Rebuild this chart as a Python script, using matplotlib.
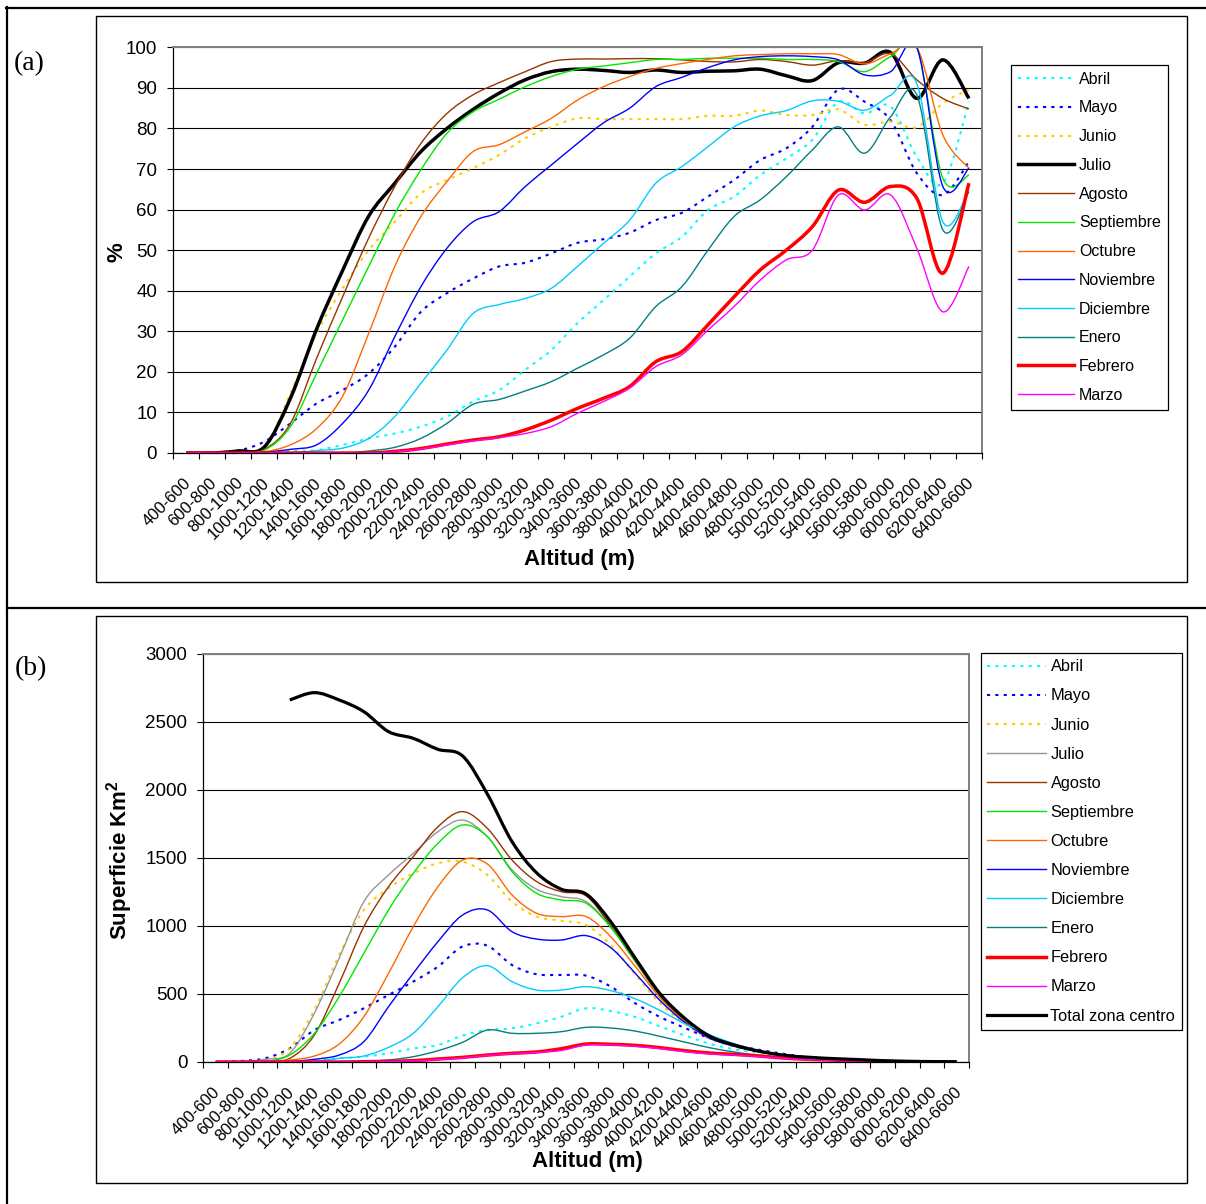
import numpy as np
import matplotlib
matplotlib.use("Agg")
import matplotlib.pyplot as plt
from matplotlib.path import Path
from matplotlib.patches import PathPatch, Rectangle
from matplotlib.lines import Line2D

plt.rcParams['font.family'] = ['Liberation Sans', 'DejaVu Sans']
plt.rcParams['mathtext.fontset'] = 'custom'
plt.rcParams['mathtext.rm'] = 'Liberation Sans'
plt.rcParams['mathtext.bf'] = 'Liberation Sans:bold'

# categorias de altitud
rangos = ['400-600', '600-800', '800-1000', '1000-1200', '1200-1400', '1400-1600',
          '1600-1800', '1800-2000', '2000-2200', '2200-2400', '2400-2600', '2600-2800',
          '2800-3000', '3000-3200', '3200-3400', '3400-3600', '3600-3800', '3800-4000',
          '4000-4200', '4200-4400', '4400-4600', '4600-4800', '4800-5000', '5000-5200',
          '5200-5400', '5400-5600', '5600-5800', '5800-6000', '6000-6200', '6200-6400',
          '6400-6600']

# (a) porcentaje de superficie cubierta
abril_a = [0, 0, 0, 0, 0.5, 0.7, 2, 3.6, 4.8, 6.5, 9, 12.7, 15.5, 20.5, 25.4, 32,
           37.7, 43.5, 49.2, 53.3, 59.9, 63.2, 68.5, 72.6, 77.2, 86.6, 83.7, 85.4, 73, 66.5, 86.6]
mayo_a = [0, 0, 0.6, 2.8, 7.3, 12.2, 15.5, 19.6, 26.2, 34.8, 39.4, 43, 46, 46.9, 49.2, 51.8,
          52.7, 54.3, 57.4, 59.2, 63.2, 67.3, 72.2, 75.1, 80.4, 89.6, 86.6, 82, 69, 63.6, 71.8]
junio_a = [0, 0, 0, 1.2, 14.7, 29.5, 40.6, 50, 57, 64, 67.3, 70.2, 73.5, 77.6, 80.4, 82.5,
           82.3, 82.3, 82.3, 82.3, 83.1, 83.1, 84.4, 83.3, 83.3, 84.7, 80.9, 81.7, 80.3, 86.2, 89.6]
julio_a = [0, 0, 0.5, 1.5, 13.5, 30.5, 45, 58.4, 66.5, 74.3, 80, 84.7, 88.7, 92, 94, 94.6,
           94.3, 93.8, 94.4, 93.8, 94.1, 94.2, 94.6, 93, 91.8, 96.2, 96.1, 98.7, 87.4, 96.9, 87.4]
agosto_a = [0, 0, 0, 0.9, 7.3, 23.3, 38.5, 53, 65.7, 76.3, 83.7, 88.3, 91.3, 94, 96.5, 97.1,
            97.1, 97.2, 97.2, 96.9, 96.5, 96.4, 97, 96.5, 95.6, 96.7, 96.2, 98.4, 92, 87.4, 84.8]
septiembre_a = [0, 0, 0, 0.7, 6.5, 19.6, 32.8, 46, 59, 69.8, 78.8, 84.1, 87.2, 90.3, 92.8, 94.6,
                95.4, 96.2, 97, 97, 97.3, 97.3, 97.3, 97, 97, 96.5, 94, 97.7, 100, 67.7, 68.5]
octubre_a = [0, 0, 0, 0.3, 2, 6, 14, 29.5, 46, 58.3, 66.9, 74.3, 76, 79.2, 82.5, 87,
             90.3, 92.8, 94.8, 96, 97, 97.9, 98.2, 98.4, 98.4, 98.2, 95.9, 98.4, 100, 78.4, 70.2]
noviembre_a = [0, 0, 0, 0.2, 0.9, 2, 7.3, 15.5, 28.7, 41, 50.5, 57, 59.5, 65.7, 71, 76.3,
               81.4, 85, 90.3, 92.6, 95, 96.9, 97.7, 97.9, 97.7, 96.9, 93.2, 94, 100, 65.7, 70.2]
diciembre_a = [0, 0, 0, 0, 0, 0.6, 1.2, 3.6, 9, 17.2, 25.4, 34.4, 36.6, 38.1, 40.6, 46,
               51.7, 57.4, 66.5, 70.6, 75.5, 80.4, 83.1, 84.4, 86.8, 86.7, 84.5, 88.2, 91.1, 57, 64.8]
enero_a = [0, 0, 0, 0, 0, 0, 0, 0.5, 1.4, 3.6, 7.3, 12, 13.2, 15.3, 17.6, 20.9,
           24.2, 28.3, 36.1, 41, 50, 58.3, 62.4, 68.1, 74.7, 80.4, 73.9, 82.9, 88.3, 55, 64.4]
febrero_a = [0, 0, 0, 0, 0, 0, 0, 0, 0.4, 1.1, 2.2, 3.2, 4, 5.7, 8.1, 11,
             13.5, 16.4, 22.5, 25, 31.6, 38.5, 45.1, 50, 55.8, 64.8, 61.8, 65.7, 62.8, 44.3, 66.5]
marzo_a = [0, 0, 0, 0, 0, 0, 0, 0, 0.3, 1, 2, 3, 3.8, 4.8, 6.5, 9.8,
           12.7, 16, 21.3, 24.2, 30.3, 36.1, 42.6, 47.6, 50, 63.6, 59.9, 63.6, 50.5, 34.8, 46]

# (b) superficie en km2
abril_b = [0, 0, 0, 0, 10, 27, 39, 64, 100, 125, 195, 235, 248, 284, 333, 395,
           375, 330, 261, 195, 134, 93, 66, 46, 30, 20, 13, 7, 4, 2, 1]
mayo_b = [0, 7, 27, 100, 235, 309, 395, 493, 591, 701, 850, 855, 713, 645, 640, 635,
          554, 430, 330, 250, 175, 125, 90, 60, 35, 22, 14, 8, 4, 2, 1]
junio_b = [0, 0, 10, 100, 382, 787, 1118, 1277, 1387, 1461, 1473, 1375, 1179, 1069, 1039, 1007,
           860, 640, 430, 280, 170, 112, 72, 45, 31, 22, 15, 8, 4, 2, 1]
julio_b = [0, 2, 20, 64, 360, 762, 1179, 1375, 1534, 1694, 1779, 1657, 1412, 1270, 1216, 1179,
           990, 735, 480, 305, 180, 118, 76, 47, 32, 23, 16, 9, 5, 3, 2]
agosto_b = [0, 0, 5, 27, 199, 578, 995, 1289, 1510, 1730, 1841, 1718, 1485, 1326, 1252, 1221,
            1000, 740, 490, 310, 185, 120, 78, 48, 33, 24, 17, 9, 5, 3, 2]
septiembre_b = [0, 0, 3, 51, 211, 480, 799, 1118, 1387, 1608, 1743, 1657, 1400, 1240, 1191, 1167,
                990, 740, 490, 310, 185, 120, 78, 48, 33, 24, 17, 9, 5, 3, 2]
octubre_b = [0, 0, 5, 15, 44, 132, 333, 652, 995, 1289, 1485, 1456, 1228, 1093, 1069, 1069,
             920, 700, 470, 300, 180, 118, 76, 47, 32, 23, 16, 9, 5, 3, 2]
noviembre_b = [0, 0, 0, 3, 20, 51, 150, 407, 652, 885, 1081, 1118, 958, 904, 897, 929,
               840, 650, 450, 290, 175, 115, 74, 46, 32, 23, 16, 9, 5, 3, 2]
diciembre_b = [0, 0, 0, 0, 5, 27, 44, 108, 211, 407, 620, 708, 591, 529, 529, 554,
               525, 464, 378, 281, 200, 134, 85, 54, 37, 25, 16, 9, 5, 3, 1]
enero_b = [0, 0, 0, 0, 0, 2, 5, 15, 39, 83, 145, 235, 211, 211, 223, 255,
           250, 227, 188, 146, 105, 73, 49, 32, 22, 15, 9, 5, 3, 1, 1]
febrero_b = [0, 0, 0, 0, 0, 0, 2, 5, 10, 22, 34, 51, 64, 74, 98, 132,
             130, 122, 105, 83, 66, 56, 44, 29, 20, 14, 9, 5, 3, 2, 1]
marzo_b = [0, 0, 0, 0, 0, 0, 1, 4, 8, 18, 30, 48, 60, 70, 85, 125,
           125, 115, 98, 76, 60, 50, 40, 26, 18, 12, 8, 4, 2, 1, 1]
total_b = [np.nan, np.nan, np.nan, 2662, 2716, 2662, 2576, 2429, 2380, 2299, 2250, 1970, 1620, 1390, 1270, 1235,
           1030, 760, 500, 320, 190, 125, 80, 50, 35, 25, 18, 10, 5, 3, 2]

W, H = 1206, 1204
DOT = (0, (1.5, 2.5))


def fx(x):
    return x / W


def fy(y):
    return 1 - y / H


def curva(x, y):
    # linea suavizada tipo Excel (bezier por los puntos)
    p = np.array([(a, b) for a, b in zip(x, y) if not np.isnan(b)], dtype=float)
    n = len(p)
    verts, codes = [p[0]], [Path.MOVETO]
    for k in range(n - 1):
        p0 = p[k - 1] if k > 0 else p[k]
        p3 = p[k + 2] if k + 2 < n else p[k + 1]
        verts += [p[k] + (p[k + 1] - p0) / 6, p[k + 1] - (p3 - p[k]) / 6, p[k + 1]]
        codes += [Path.CURVE4] * 3
    return Path(verts, codes)


def panel(ax, series, ymax, ystep, legend_xy, legend_fs):
    x = np.arange(len(rangos), dtype=float)
    handles = []
    for nombre, vals, color, lw, ls in series:
        vals = np.array(vals, dtype=float)
        ax.add_patch(PathPatch(curva(x, vals), fill=False, edgecolor=color, lw=lw,
                               linestyle=ls, capstyle='butt', joinstyle='round'))
        handles.append(Line2D([], [], color=color, lw=lw, linestyle=ls, label=nombre))

    ax.set_xlim(-0.5, len(rangos) - 0.5)
    ax.set_ylim(0, ymax)
    ax.set_yticks(np.arange(0, ymax + 1, ystep))
    ax.yaxis.grid(True, color='black', lw=0.8)
    ax.set_axisbelow(True)
    ax.tick_params(axis='y', length=4.5, width=0.8, pad=7, labelsize=13.5)
    ax.set_xticks(np.arange(-0.5, len(rangos), 1))
    ax.set_xticklabels([])
    ax.tick_params(axis='x', length=4.5, width=0.8)
    for s in ['top', 'right']:
        ax.spines[s].set_color('#808080')
        ax.spines[s].set_linewidth(1.4)
    for s in ['left', 'bottom']:
        ax.spines[s].set_linewidth(0.9)

    for i, lab in enumerate(rangos):
        ax.annotate(lab, xy=(i, 0), xycoords=('data', 'axes fraction'),
                    xytext=(-3, -22), textcoords='offset pixels',
                    rotation=45, rotation_mode='anchor', ha='right', va='top',
                    fontsize=12)

    leg = ax.legend(handles=handles, loc='upper left',
                    bbox_to_anchor=(fx(legend_xy[0]), fy(legend_xy[1])),
                    bbox_transform=ax.figure.transFigure, borderaxespad=0,
                    fontsize=legend_fs, handlelength=3.55, handletextpad=0.3,
                    labelspacing=0.86, borderpad=0.42, fancybox=False,
                    framealpha=1, edgecolor='black')
    leg.get_frame().set_linewidth(0.9)


fig = plt.figure(figsize=(W / 100, H / 100), dpi=100)

# marco de la tabla
for xs, ys in [([6, W], [7.5, 7.5]), ([7, 7], [6.5, H]), ([7, W], [607.5, 607.5])]:
    fig.add_artist(Line2D([fx(v) for v in xs], [fy(v) for v in ys],
                          transform=fig.transFigure, color='black', lw=1.6))
for top, bot in [(16, 581.5), (616, 1182.5)]:
    fig.add_artist(Rectangle((fx(95.5), fy(bot)), fx(1186.5) - fx(95.5), fy(top) - fy(bot),
                             transform=fig.transFigure, fill=False, edgecolor='black', lw=1.0))

ax_a = fig.add_axes([fx(173), fy(453), fx(982) - fx(173), fy(47.3) - fy(453)])
ax_b = fig.add_axes([fx(203.3), fy(1062), fx(969) - fx(203.3), fy(654) - fy(1062)])

serie_a = [
    ('Abril', abril_a, '#00FFFF', 1.5, DOT),
    ('Mayo', mayo_a, '#0000FF', 1.5, DOT),
    ('Junio', junio_a, '#FFCC00', 1.5, DOT),
    ('Julio', julio_a, 'black', 2.5, '-'),
    ('Agosto', agosto_a, '#993300', 1.0, '-'),
    ('Septiembre', septiembre_a, '#00E600', 1.0, '-'),
    ('Octubre', octubre_a, '#FF6600', 1.0, '-'),
    ('Noviembre', noviembre_a, '#0000FF', 1.0, '-'),
    ('Diciembre', diciembre_a, '#00CCFF', 1.0, '-'),
    ('Enero', enero_a, '#008080', 1.0, '-'),
    ('Febrero', febrero_a, '#FF0000', 2.5, '-'),
    ('Marzo', marzo_a, '#FF00FF', 1.0, '-'),
]
serie_b = [
    ('Abril', abril_b, '#00FFFF', 1.5, DOT),
    ('Mayo', mayo_b, '#0000FF', 1.5, DOT),
    ('Junio', junio_b, '#FFCC00', 1.5, DOT),
    ('Julio', julio_b, '#969696', 1.0, '-'),
    ('Agosto', agosto_b, '#993300', 1.0, '-'),
    ('Septiembre', septiembre_b, '#00E600', 1.0, '-'),
    ('Octubre', octubre_b, '#FF6600', 1.0, '-'),
    ('Noviembre', noviembre_b, '#0000FF', 1.0, '-'),
    ('Diciembre', diciembre_b, '#00CCFF', 1.0, '-'),
    ('Enero', enero_b, '#008080', 1.0, '-'),
    ('Febrero', febrero_b, '#FF0000', 2.5, '-'),
    ('Marzo', marzo_b, '#FF00FF', 1.0, '-'),
    ('Total zona centro', total_b, 'black', 2.3, '-'),
]

panel(ax_a, serie_a, 100, 10, (1011, 65), 11.5)
panel(ax_b, serie_b, 3000, 500, (980.5, 652.5), 11.8)

# textos de ejes y etiquetas
fig.text(fx(117), fy(252), '%', rotation=90, ha='center', va='center',
         fontsize=16, fontweight='bold')
fig.text(fx(120), fy(860), r'Superficie Km$^{\mathbf{2}}$', rotation=90,
         ha='center', va='center', fontsize=16, fontweight='bold')
fig.text(fx(579), fy(560), 'Altitud (m)', ha='center', va='center',
         fontsize=16, fontweight='bold')
fig.text(fx(587), fy(1161), 'Altitud (m)', ha='center', va='center',
         fontsize=16, fontweight='bold')
fig.text(fx(14), fy(64), '(a)', ha='left', va='center', fontsize=20,
         family=['Liberation Serif', 'DejaVu Serif'])
fig.text(fx(15), fy(669), '(b)', ha='left', va='center', fontsize=20,
         family=['Liberation Serif', 'DejaVu Serif'])

fig.savefig('out.png', dpi=100)
